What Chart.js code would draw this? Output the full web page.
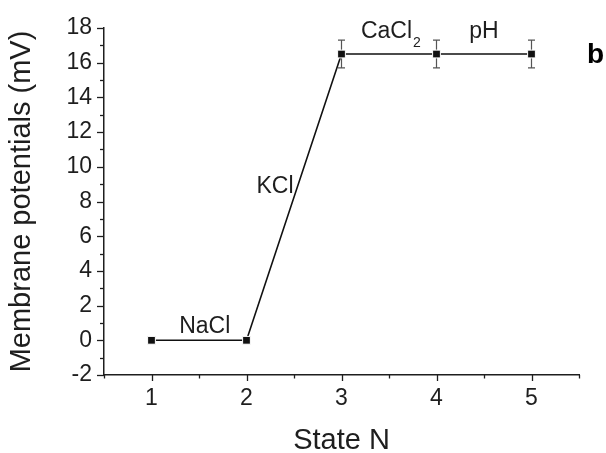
<!DOCTYPE html>
<html>
<head>
<meta charset="utf-8">
<script src="https://cdn.jsdelivr.net/npm/chart.js@4/dist/chart.umd.min.js"></script>
<style>
  html, body { margin: 0; padding: 0; background: #fff; }
  #wrap { width: 606px; height: 453px; }
</style>
</head>
<body>
<div id="wrap"><canvas id="c" width="606" height="453"></canvas></div>
<script>
// ---- data ----
const stateN = [1, 2, 3, 4, 5];
const potentials = [0, 0, 16.5, 16.5, 16.5];
const errors = [0, 0, 0.8, 0.8, 0.8];
const xTickValues = [1, 2, 3, 4, 5];
const yTickValues = [-2, 0, 2, 4, 6, 8, 10, 12, 14, 16, 18];
// annotation labels anchored in data units (x, baseline y)
const labelTexts = ['NaCl', 'KCl', 'CaCl', 'pH'];
const labelSubs = ['', '', '2', ''];
const labelX = [1.56, 2.3, 3.52, 4.5];
const labelY = [0.44, 8.5, 17.43, 17.43];

const FONT = '"Liberation Sans", Arial, Helvetica, sans-serif';
const INK = '#1e1e1e';

const ticksPlugin = {
  id: 'minorMajorTicks',
  afterDraw(chart) {
    const ctx = chart.ctx;
    const xs = chart.scales.x, ys = chart.scales.y;
    const area = chart.chartArea;
    ctx.save();
    ctx.strokeStyle = INK;
    ctx.lineWidth = 1.3;
    for (let v = ys.min; v <= ys.max + 1e-9; v += 1) {
      const py = Math.round(ys.getPixelForValue(v)) + 0.5;
      const major = yTickValues.includes(v);
      const len = major ? 7 : 4;
      ctx.beginPath();
      ctx.moveTo(area.left, py);
      ctx.lineTo(area.left - len, py);
      ctx.stroke();
    }
    for (let v = xs.min; v <= xs.max + 1e-9; v += 0.5) {
      const px = Math.round(xs.getPixelForValue(v)) + 0.5;
      const major = xTickValues.includes(v);
      const len = major ? 6 : 3.5;
      ctx.beginPath();
      ctx.moveTo(px, area.bottom);
      ctx.lineTo(px, area.bottom + len);
      ctx.stroke();
    }
    ctx.fillStyle = '#000';
    ctx.font = 'bold 28px ' + FONT;
    ctx.textAlign = 'left';
    ctx.textBaseline = 'alphabetic';
    ctx.fillText('b', 587, 63);
    ctx.restore();
  }
};

const errorBarPlugin = {
  id: 'errorBars',
  beforeDatasetsDraw(chart) {
    const ctx = chart.ctx;
    const xs = chart.scales.x, ys = chart.scales.y;
    ctx.save();
    ctx.strokeStyle = '#555';
    ctx.lineWidth = 1.2;
    stateN.forEach((x, i) => {
      if (!errors[i]) return;
      const px = xs.getPixelForValue(x);
      const top = ys.getPixelForValue(potentials[i] + errors[i]);
      const bot = ys.getPixelForValue(potentials[i] - errors[i]);
      ctx.beginPath();
      ctx.moveTo(px, top); ctx.lineTo(px, bot);
      ctx.moveTo(px - 3.5, top); ctx.lineTo(px + 3.5, top);
      ctx.moveTo(px - 3.5, bot); ctx.lineTo(px + 3.5, bot);
      ctx.stroke();
    });
    ctx.restore();
  }
};

const labelPlugin = {
  id: 'segmentLabels',
  afterDatasetsDraw(chart) {
    const ctx = chart.ctx;
    const xs = chart.scales.x, ys = chart.scales.y;
    ctx.save();
    ctx.fillStyle = INK;
    ctx.textBaseline = 'alphabetic';
    labelTexts.forEach((t, i) => {
      const cx = xs.getPixelForValue(labelX[i]);
      const by = ys.getPixelForValue(labelY[i]);
      ctx.font = '23px ' + FONT;
      const w1 = ctx.measureText(t).width;
      let w2 = 0;
      if (labelSubs[i]) {
        ctx.font = '14px ' + FONT;
        w2 = ctx.measureText(labelSubs[i]).width + 1;
      }
      const start = cx - (w1 + w2) / 2;
      ctx.textAlign = 'left';
      ctx.font = '23px ' + FONT;
      ctx.fillText(t, start, by);
      if (labelSubs[i]) {
        ctx.font = '14px ' + FONT;
        ctx.fillText(labelSubs[i], start + w1 + 1, by + 9);
      }
    });
    ctx.restore();
  }
};

new Chart(document.getElementById('c'), {
  type: 'scatter',
  data: {
    datasets: [{
      data: stateN.map((x, i) => ({ x: x, y: potentials[i] })),
      showLine: true,
      borderColor: '#111',
      borderWidth: 1.6,
      pointStyle: 'rect',
      pointRadius: 5.5,
      pointBackgroundColor: '#111',
      pointBorderColor: '#fff',
      pointBorderWidth: 1,
      tension: 0,
      clip: false
    }]
  },
  options: {
    responsive: false,
    animation: false,
    devicePixelRatio: 1,
    layout: { padding: { top: 28, right: 27, left: 0, bottom: 0 } },
    plugins: { legend: { display: false }, tooltip: { enabled: false } },
    scales: {
      x: {
        type: 'linear',
        min: 0.5, max: 5.5,
        grid: { display: false, drawTicks: false },
        border: { display: true, color: INK, width: 1.5 },
        ticks: {
          stepSize: 0.5,
          autoSkip: false,
          maxRotation: 0,
          padding: 10,
          color: INK,
          font: { family: FONT, size: 23 },
          callback: (v) => xTickValues.includes(v) ? String(v) : ''
        },
        title: {
          display: true,
          text: 'State N',
          color: INK,
          font: { family: FONT, size: 29, lineHeight: 1 },
          padding: { top: 0, bottom: -2 }
        },
        afterFit: (s) => { s.height = 78; }
      },
      y: {
        type: 'linear',
        min: -2, max: 18,
        grid: { display: false, drawTicks: false },
        border: { display: true, color: INK, width: 1.5 },
        ticks: {
          stepSize: 2,
          autoSkip: false,
          padding: 12,
          color: INK,
          font: { family: FONT, size: 23 },
          callback: (v) => yTickValues.includes(v) ? String(v) : ''
        },
        title: {
          display: true,
          text: 'Membrane potentials (mV)',
          color: INK,
          font: { family: FONT, size: 29, lineHeight: 1 },
          padding: { top: 7, bottom: 0 }
        },
        afterFit: (s) => { s.width = 104; }
      }
    }
  },
  plugins: [errorBarPlugin, labelPlugin, ticksPlugin]
});
</script>
</body>
</html>
